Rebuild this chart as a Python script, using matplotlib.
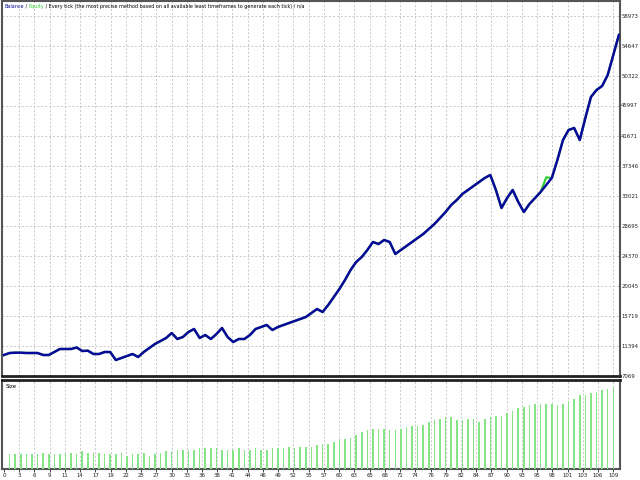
import numpy as np
import matplotlib
matplotlib.use("Agg")
from matplotlib import pyplot as plt

# balance after each trade (trade 0 = deposit)
balance = [10097, 10385, 10428, 10428, 10385, 10385, 10385, 10097, 10097, 10529,
           10962, 10962, 10962, 11178, 10674, 10717, 10241, 10241, 10529, 10529,
           9376, 9664, 9953, 10241, 9808, 10529, 11106, 11683, 12115, 12548,
           13269, 12404, 12692, 13413, 13845, 12548, 12980, 12404, 13125, 13990,
           12692, 11971, 12404, 12404, 12980, 13845, 14134, 14422, 13701, 14134,
           14422, 14711, 14999, 15287, 15576, 16152, 16729, 16297, 17306, 18459,
           19613, 20910, 22352, 23506, 24226, 25236, 26389, 26101, 26677, 26389,
           24659, 25236, 25812, 26389, 26966, 27543, 28263, 28984, 29849, 30715,
           31724, 32445, 33310, 33886, 34463, 35040, 35617, 36049, 33886, 31291,
           32733, 33886, 32156, 30715, 31868, 32733, 33598, 34607, 35617, 38212,
           41095, 42537, 42826, 41095, 44267, 47295, 48304, 48881, 50467, 53351,
           56234]
equity = list(balance)
equity[97] = balance[97] + 1100
# lot size per trade
sizes = [0.10, 0.10, 0.10, 0.10, 0.10, 0.10, 0.11, 0.10, 0.10, 0.10,
         0.11, 0.11, 0.10, 0.12, 0.11, 0.11, 0.11, 0.10, 0.10, 0.10,
         0.11, 0.09, 0.10, 0.10, 0.11, 0.09, 0.10, 0.11, 0.12, 0.12,
         0.13, 0.13, 0.13, 0.13, 0.14, 0.14, 0.14, 0.14, 0.13, 0.13,
         0.13, 0.14, 0.13, 0.13, 0.14, 0.13, 0.13, 0.14, 0.14, 0.14,
         0.15, 0.14, 0.15, 0.15, 0.15, 0.16, 0.17, 0.17, 0.18, 0.20,
         0.20, 0.21, 0.23, 0.25, 0.26, 0.27, 0.27, 0.27, 0.26, 0.26,
         0.27, 0.28, 0.29, 0.29, 0.30, 0.32, 0.33, 0.34, 0.35, 0.35,
         0.33, 0.33, 0.34, 0.34, 0.32, 0.34, 0.35, 0.36, 0.36, 0.38,
         0.39, 0.41, 0.42, 0.43, 0.44, 0.44, 0.44, 0.44, 0.43, 0.44,
         0.46, 0.47, 0.50, 0.50, 0.51, 0.52, 0.53, 0.54, 0.55]
ytick_labels = ["7069", "11394", "15719", "20045", "24370", "28695", "33021",
                "37346", "41671", "45997", "50322", "54647", "58973"]
xtick_labels = ["0", "3", "6", "9", "11", "14", "17", "19", "22", "25", "27", "30",
                "33", "36", "38", "41", "44", "46", "49", "52", "55", "57", "60",
                "63", "65", "68", "71", "74", "76", "79", "82", "84", "87", "90",
                "93", "95", "98", "101", "103", "106", "109"]

blue = "#0a0a9a"
green = "#33cc33"
bar_green = "#86e486"
frame = "#555555"
small_font = ["Liberation Sans Narrow", "DejaVu Sans"]
grid_kw = dict(color="#c8c8c8", linestyle=(0, (2, 2)), linewidth=0.7)

fig = plt.figure(figsize=(6.4, 4.8), dpi=100)
fig.patch.set_facecolor("white")

ax = fig.add_axes([2 / 640, 104 / 480, 618 / 640, 375 / 480])
ax2 = fig.add_axes([2 / 640, 11 / 480, 618 / 640, 89 / 480])

trades = np.arange(len(balance))
xmax = 109
xlim = (-0.36, 110.2)
xpos = np.linspace(0, xmax, len(xtick_labels))

ax.plot(trades, equity, color=green, linewidth=1.6, zorder=3)
ax.plot(trades, balance, color=blue, linewidth=1.8, zorder=4)
ax.set_xlim(*xlim)
ymin = float(ytick_labels[0])
step = (float(ytick_labels[-1]) - ymin) / (len(ytick_labels) - 1)
ax.set_ylim(ymin, ymin + step * 12.5)
yvals = [ymin + i * step for i in range(len(ytick_labels))]
for v in yvals[1:]:
    ax.axhline(v, **grid_kw, zorder=1)
for xp in xpos[1:]:
    ax.axvline(xp, **grid_kw, zorder=1)
ax.set_xticks([])
ax.set_yticks([])
for v, lab in zip(yvals, ytick_labels):
    ax.text(1.002, (v - ymin) / (step * 12.5), lab, transform=ax.transAxes,
            fontsize=3.9, family=small_font, va="center", ha="left",
            color="#222222")
for s in ax.spines.values():
    s.set_color(frame)
    s.set_linewidth(1.5)
ax.spines["bottom"].set_color("#222222")
ax.spines["bottom"].set_linewidth(2)

# header
parts = [("Balance", blue), (" / ", "black"), ("Equity", green),
         (" / Every tick (the most precise method based on all available least timeframes to generate each tick) / n/a", "black")]
t = None
for txt, col in parts:
    if t is None:
        t = ax.text(0.004, 0.993, txt, transform=ax.transAxes, fontsize=3.5,
                    family=small_font, color=col, va="top", ha="left")
    else:
        t = ax.annotate(txt, xycoords=t, xy=(1, 0), va="bottom", ha="left",
                        fontsize=3.5, family=small_font, color=col)

# size panel
bar_x = np.arange(1, len(sizes) + 1)
ax2.bar(bar_x, sizes, width=0.28, color=bar_green, zorder=3)
ax2.set_xlim(*xlim)
ax2.set_ylim(0, 0.60)
for xp in xpos[1:]:
    ax2.axvline(xp, **grid_kw, zorder=1)
ax2.set_yticks([])
ax2.set_xticks(xpos)
ax2.set_xticklabels(xtick_labels, fontsize=3.9, family=small_font)
ax2.tick_params(axis="x", length=2, width=0.6, pad=1, colors="#222222")
ax2.text(0.006, 0.96, "Size", transform=ax2.transAxes, fontsize=3.9,
         family=small_font, va="top", ha="left")
for s in ax2.spines.values():
    s.set_color(frame)
    s.set_linewidth(1.5)
ax2.spines["top"].set_color("#222222")
ax2.spines["top"].set_linewidth(2)

fig.savefig("out.png", dpi=100)
